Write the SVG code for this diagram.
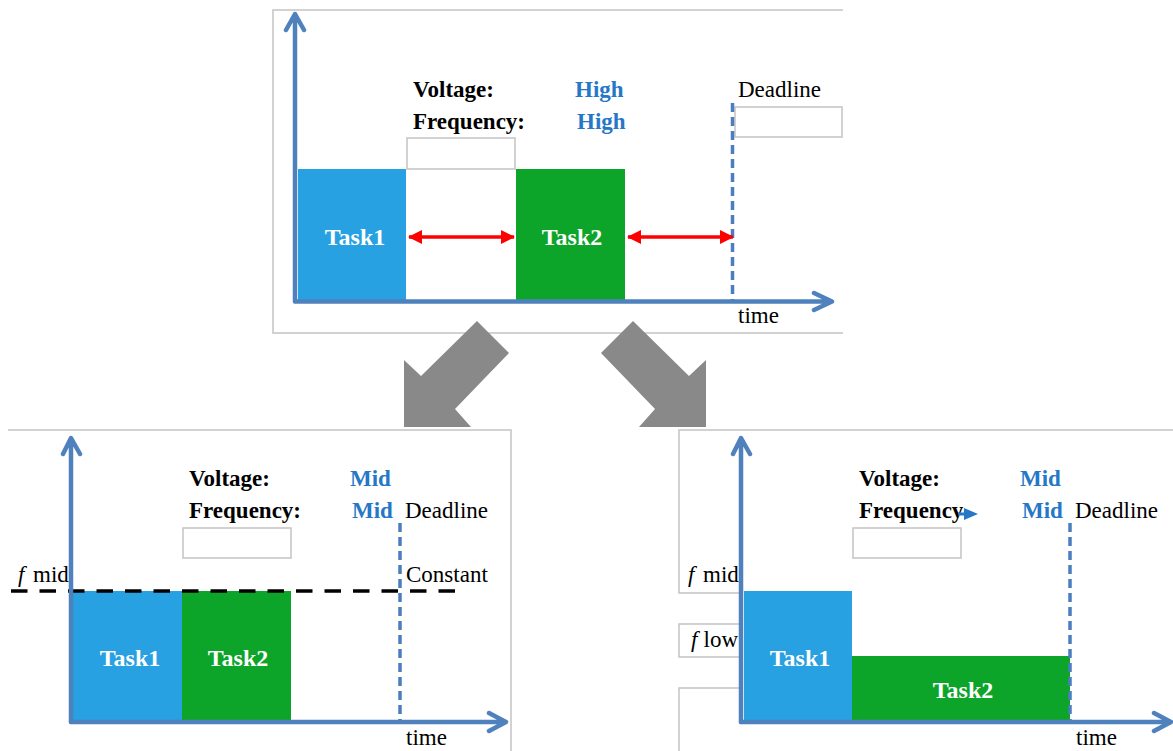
<svg xmlns="http://www.w3.org/2000/svg" width="1173" height="751" viewBox="0 0 1173 751">
<style>
.frame{stroke:#c3c3c3;stroke-width:1.5;fill:none}
.box{stroke:#c3c3c3;stroke-width:1.5;fill:#fff}
.axis{stroke:#4f81bd;stroke-width:4.5;fill:none;stroke-linecap:round;stroke-linejoin:round}
.dl{stroke:#4a7ebf;stroke-width:3.5;stroke-dasharray:9 5;fill:none}
.red{stroke:#ff0000;stroke-width:3.5;fill:none}
.t1{fill:#27a1e1}
.t2{fill:#0ca429}
.txt{font-family:"Liberation Serif","Times New Roman",serif;font-size:23px;fill:#000}
.b{font-weight:bold}
.blue{fill:#2677c6;font-weight:bold}
.w{fill:#fff;font-weight:bold;font-size:24px}
.gray{fill:#898989}
</style>
<defs>
<marker id="rh" viewBox="0 0 14 14" refX="13" refY="7" markerWidth="14" markerHeight="14" markerUnits="userSpaceOnUse" orient="auto-start-reverse">
<path d="M0,0 L14,7 L0,14 Z" fill="#ff0000"/>
</marker>
</defs>

<g id="panel-top">
<path class="frame" d="M843,10 H273 V333 H843"/>
<rect class="box" x="407" y="138" width="108" height="31"/>
<rect class="box" x="735" y="107" width="107" height="30"/>
<rect class="t1" x="298" y="169" width="108" height="131"/>
<rect class="t2" x="516" y="169" width="109" height="131"/>
<line class="dl" x1="732.5" y1="103" x2="732.5" y2="300"/>
<path class="axis" d="M295,301 V15 M286,30 L295,14 L304,30"/>
<path class="axis" d="M295,301.5 H831 M814,293 L832,301.5 L814,310"/>
<text class="txt b" x="413" y="97">Voltage:</text>
<text class="txt b" x="413" y="129">Frequency:</text>
<text class="txt blue" x="575" y="97">High</text>
<text class="txt blue" x="577" y="129">High</text>
<text class="txt" x="738" y="97">Deadline</text>
<text class="txt w" x="355" y="245" text-anchor="middle">Task1</text>
<text class="txt w" x="572" y="245" text-anchor="middle">Task2</text>
<text class="txt" x="738" y="323">time</text>
</g>

<g id="connectors">
<line class="red" x1="409" y1="237" x2="514" y2="237" marker-start="url(#rh)" marker-end="url(#rh)"/>
<line class="red" x1="628" y1="237" x2="733" y2="237" marker-start="url(#rh)" marker-end="url(#rh)"/>
<polygon class="gray" points="477,321 509,353 455,409 471,427 404,427 404,360 421,376"/>
<polygon class="gray" points="633,321 601,353 655,409 639,427 706,427 706,360 689,376"/>
</g>

<g id="panel-left">
<path class="frame" d="M8,430 H511 V751"/>
<rect class="box" x="183" y="528" width="108" height="30"/>
<rect class="t1" x="73" y="591" width="109" height="130"/>
<rect class="t2" x="182" y="591" width="109" height="130"/>
<line x1="11" y1="591" x2="456" y2="591" stroke="#000" stroke-width="3.5" stroke-dasharray="16.5 12"/>
<line class="dl" x1="400" y1="523" x2="400" y2="722"/>
<path class="axis" d="M71,722 V439 M63,454 L71,438 L80,454"/>
<path class="axis" d="M71,722 H505 M489,713 L506,722 L489,731"/>
<text class="txt" y="582"><tspan x="18" font-style="italic">f</tspan><tspan x="33">mid</tspan></text>
<text class="txt b" x="189" y="486">Voltage:</text>
<text class="txt b" x="189" y="518">Frequency:</text>
<text class="txt blue" x="350" y="486">Mid</text>
<text class="txt blue" x="352" y="518">Mid</text>
<text class="txt" x="405" y="518">Deadline</text>
<text class="txt" x="406" y="582">Constant</text>
<text class="txt w" x="130" y="666" text-anchor="middle">Task1</text>
<text class="txt w" x="238" y="666" text-anchor="middle">Task2</text>
<text class="txt" x="406" y="745">time</text>
</g>

<g id="panel-right">
<path class="frame" d="M1173,430 H679 V593 H741 M741,624 H679 V657 H741 M741,688 H679 V751"/>
<rect class="box" x="853" y="528" width="108" height="30"/>
<rect class="t1" x="744" y="591" width="108" height="130"/>
<rect class="t2" x="852" y="656" width="218" height="65"/>
<line class="dl" x1="1070" y1="523" x2="1070" y2="722"/>
<path class="axis" d="M741,722 V439 M733,454 L741,438 L750,454"/>
<path class="axis" d="M741,722 H1170 M1154,713 L1171,722 L1154,731"/>
<text class="txt" y="582"><tspan x="688" font-style="italic">f</tspan><tspan x="703">mid</tspan></text>
<text class="txt" y="647"><tspan x="691" font-style="italic">f</tspan><tspan x="703.5">low</tspan></text>
<text class="txt b" x="859" y="486">Voltage:</text>
<text class="txt b" x="859" y="518">Frequency</text>
<path d="M958,514 H966" stroke="#2677c6" stroke-width="3"/>
<polygon points="964,508 978,514 964,520" fill="#2677c6"/>
<text class="txt blue" x="1020" y="486">Mid</text>
<text class="txt blue" x="1022" y="518">Mid</text>
<text class="txt" x="1075" y="518">Deadline</text>
<text class="txt w" x="800" y="666" text-anchor="middle">Task1</text>
<text class="txt w" x="963" y="698" text-anchor="middle">Task2</text>
<text class="txt" x="1076" y="745">time</text>
</g>
</svg>
